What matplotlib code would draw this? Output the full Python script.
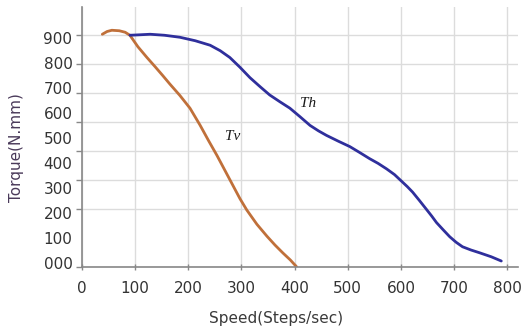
import numpy as np
import matplotlib.pyplot as plt
from matplotlib.ticker import MultipleLocator

# Tv curve (speed, torque)
tv_speed = [38, 47, 56, 70, 81, 90, 105, 122, 137, 152, 165, 184, 203, 222, 238,
            254, 269, 284, 297, 310, 329, 348, 363, 378, 392, 404]
tv_torque = [916, 927, 932, 930, 924, 912, 866, 823, 787, 750, 717, 671, 620, 552, 490,
             430, 370, 310, 258, 212, 155, 107, 72, 40, 12, -16]

# Th curve
th_speed = [90, 110, 128, 155, 184, 213, 241, 260, 278, 297, 316, 335, 353, 372, 391,
            410, 429, 445, 460, 482, 504, 522, 541, 557, 573, 588, 601, 612, 622,
            635, 648, 658, 667, 680, 692, 704, 716, 732, 748, 770, 789]
th_torque = [912, 914, 916, 912, 904, 890, 872, 850, 823, 784, 742, 706, 673, 646, 620,
             586, 551, 529, 511, 488, 466, 443, 418, 399, 377, 354, 328, 306, 284,
             250, 215, 188, 162, 132, 105, 83, 65, 52, 41, 25, 8]

y_labels = ['000', '100', '200', '300', '400', '500', '600', '700', '800', '900']
x_ticks = [0, 100, 200, 300, 400, 500, 600, 700, 800]

fig = plt.figure(figsize=(5.23, 3.35), dpi=100)
ax = fig.add_axes([0.157, 0.203, 0.833, 0.776])

ax.plot(tv_speed, tv_torque, color='#c0703a', lw=2.0, solid_capstyle='round')
ax.plot(th_speed, th_torque, color='#2f2f9c', lw=2.0, solid_capstyle='round')

ax.text(269, 505, 'Tv', family='Liberation Serif', style='italic', fontsize=11,
        color='#1a1a1a', ha='left', va='center')
ax.text(410, 640, 'Th', family='Liberation Serif', style='italic', fontsize=11,
        color='#1a1a1a', ha='left', va='center')

ax.set_xlim(0, 820)
ax.set_ylim(-16, 1025)

ax.set_xticks(x_ticks)
ax.set_xticklabels([str(v) for v in x_ticks])
ax.set_yticks(np.arange(0, 1000, 100))
ax.set_yticklabels(y_labels)
ax.yaxis.set_minor_locator(MultipleLocator(116, offset=-16))

ax.tick_params(axis='x', length=4, width=1, color='#888888', pad=8,
               labelsize=11, labelcolor='#333333', direction='inout')
ax.tick_params(axis='y', which='major', length=0, pad=7,
               labelsize=11, labelcolor='#333333')
ax.tick_params(axis='y', which='minor', length=4, width=1, color='#888888')

ax.grid(True, axis='x', color='#dcdcdc', lw=1)
ax.grid(True, axis='y', which='minor', color='#dcdcdc', lw=1)
ax.set_axisbelow(True)

for s in ['top', 'right']:
    ax.spines[s].set_visible(False)
for s in ['left', 'bottom']:
    ax.spines[s].set_color('#888888')
    ax.spines[s].set_linewidth(1.2)

ax.set_xlabel('Speed(Steps/sec)', fontsize=11, color='#3a3a3a')
ax.xaxis.set_label_coords(0.445, -0.17)
ax.set_ylabel('Torque(N.mm)', fontsize=11, color='#4a3a5a')
ax.yaxis.set_label_coords(-0.133, 0.458)

fig.savefig('out.png', dpi=100)
